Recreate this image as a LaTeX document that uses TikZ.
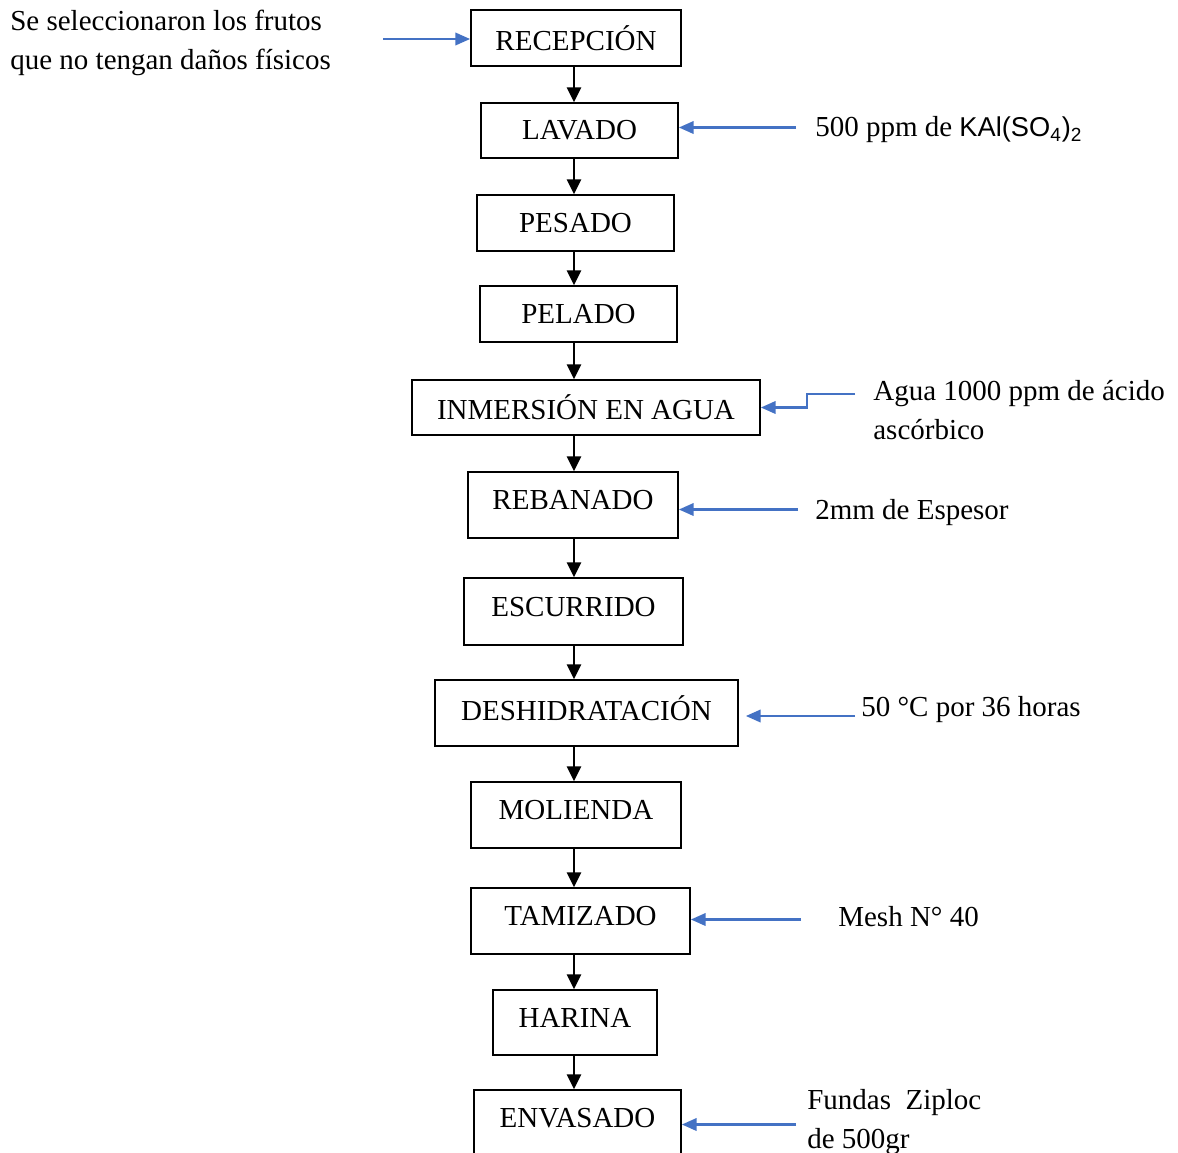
\documentclass[tikz,border=0pt]{standalone}
\usepackage{fontspec}
\setmainfont{Liberation Serif}
\newfontfamily\sanslabel{Liberation Sans}
\usepackage{tikz}
\usetikzlibrary{arrows.meta, positioning}
\definecolor{myblue}{RGB}{68,114,196}
\definecolor{mydark}{RGB}{0,0,0}
\tikzset{
  paso/.style={rectangle, draw=mydark, line width=0.9pt, inner sep=0pt,
    font=\fontsize{16.5}{22}\selectfont},
  pasoalto/.style={paso, minimum height=1.32cm, text depth=0.2cm},
  nota/.style={anchor=west, inner sep=0pt, align=left,
    font=\fontsize{16.5}{22.2}\selectfont},
  arrow/.style={-{Triangle[length=8.5pt,width=8pt]}, line width=1.4pt, color=mydark},
  bluearrow/.style={-{Triangle[length=8.5pt,width=7pt]}, line width=1.6pt, color=myblue}
}

\begin{document}
\begin{tikzpicture}[x=0.02cm, y=-0.02cm]
  \useasboundingbox (0,0) rectangle (1178,1153);
  % Pasos del proceso
  \node[paso, minimum width=4.2cm,  minimum height=1.12cm] (recepcion)      at (576,38)     {RECEPCIÓN};
  \node[paso, minimum width=3.94cm, minimum height=1.1cm]  (lavado)         at (579.5,130.5){LAVADO};
  \node[paso, minimum width=3.94cm, minimum height=1.12cm] (pesado)         at (575.5,223)  {PESADO};
  \node[paso, minimum width=3.94cm, minimum height=1.12cm] (pelado)         at (578.5,314)  {PELADO};
  \node[paso, minimum width=6.96cm, minimum height=1.1cm]  (inmersion)      at (586,407.5)  {INMERSIÓN EN AGUA};
  \node[pasoalto, minimum width=4.2cm]  (rebanado)       at (573,505)    {REBANADO};
  \node[pasoalto, minimum width=4.38cm, minimum height=1.34cm] (escurrido) at (573.5,611.5){ESCURRIDO};
  \node[pasoalto, minimum width=6.06cm] (deshidratacion) at (586.5,713)  {DESHIDRATACIÓN};
  \node[pasoalto, minimum width=4.2cm]  (molienda)       at (576,815)    {MOLIENDA};
  \node[pasoalto, minimum width=4.38cm] (tamizado)       at (580.5,921)  {TAMIZADO};
  \node[pasoalto, minimum width=3.28cm, minimum height=1.3cm] (harina)   at (575,1022.5) {HARINA};
  \node[pasoalto, minimum width=4.14cm] (envasado)       at (577.5,1123) {ENVASADO};
  % Flechas del proceso
  \coordinate (eje) at (574,0);
  \draw[arrow] (recepcion.south -| eje) -- (lavado.north -| eje);
  \draw[arrow] (lavado.south -| eje) -- (pesado.north -| eje);
  \draw[arrow] (pesado.south -| eje) -- (pelado.north -| eje);
  \draw[arrow] (pelado.south -| eje) -- (inmersion.north -| eje);
  \draw[arrow] (inmersion.south -| eje) -- (rebanado.north -| eje);
  \draw[arrow] (rebanado.south -| eje) -- (escurrido.north -| eje);
  \draw[arrow] (escurrido.south -| eje) -- (deshidratacion.north -| eje);
  \draw[arrow] (deshidratacion.south -| eje) -- (molienda.north -| eje);
  \draw[arrow] (molienda.south -| eje) -- (tamizado.north -| eje);
  \draw[arrow] (tamizado.south -| eje) -- (harina.north -| eje);
  \draw[arrow] (harina.south -| eje) -- (envasado.north -| eje);
  % Notas
  \node[nota] (notasel) at (10,43) {Se seleccionaron los frutos\\que no tengan daños físicos};
  \node[nota] (notalav) at (815,130) {500 ppm de {\sanslabel\fontsize{15.5}{20}\selectfont KAl(SO\textsubscript{4})\textsubscript{2}}};
  \node[nota] (notainm) at (873,410.5) {Agua 1000 ppm de ácido\\ascórbico};
  \node[nota] (notareb) at (815,513) {2mm de Espesor};
  \node[nota] (notades) at (861,710) {50 °C por 36 horas};
  \node[nota] (notatam) at (838,917) {Mesh N° 40};
  \node[nota] (notaenv) at (807,1122.5) {Fundas\ \ Ziploc\\de 500gr};
  % Flechas azules
  \coordinate (insel) at (383,39);
  \coordinate (inlav) at (796,127.5);
  \coordinate (ininm) at (855,394);
  \coordinate (inreb) at (798,509.5);
  \coordinate (indes) at (855,716);
  \coordinate (intam) at (801,919.5);
  \coordinate (inenv) at (796,1124.5);
  \draw[bluearrow] (insel) -- (insel -| recepcion.west);
  \draw[bluearrow] (inlav) -- (inlav -| lavado.east);
  \draw[bluearrow] (ininm) -- ++(-48,0) |- (inmersion.east);
  \draw[bluearrow] (inreb) -- (inreb -| rebanado.east);
  \draw[bluearrow, shorten >=0.14cm] (indes) -- (indes -| deshidratacion.east);
  \draw[bluearrow] (intam) -- (intam -| tamizado.east);
  \draw[bluearrow] (inenv) -- (inenv -| envasado.east);
\end{tikzpicture}
\end{document}
